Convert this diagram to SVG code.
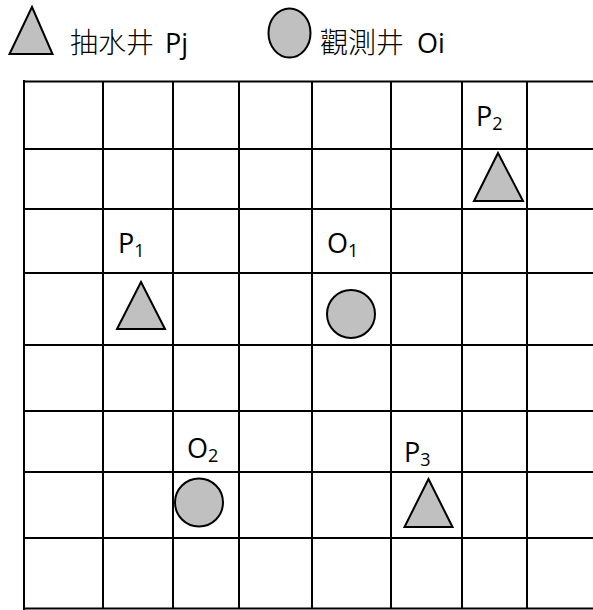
<svg xmlns="http://www.w3.org/2000/svg" width="593" height="610" viewBox="0 0 593 610">
<style>
.grid line{stroke:#000;stroke-width:2}
.border{stroke:#000;stroke-width:3.5}
.well{fill:#c0c0c0;stroke:#000;stroke-width:2;stroke-linejoin:miter}
.lat{font-family:"Open Sans","Noto Sans",sans-serif;font-size:27px;fill:#000}
.sub{font-size:18px}
.cjk{font-family:"Noto Sans CJK TC","Noto Sans CJK SC",serif;font-size:28px;font-weight:300;fill:#000}
</style>
<rect width="593" height="610" fill="#fff"/>
<g id="legend">
  <g id="legend-pump">
    <polygon class="well" points="32,7 9.5,54 52.5,54"/>
    <text class="cjk" x="70" y="53">抽水井</text>
    <text class="lat" x="165" y="53">Pj</text>
  </g>
  <g id="legend-obs">
    <ellipse class="well" cx="289.5" cy="33" rx="21" ry="24.5"/>
    <text class="cjk" x="320" y="53">觀測井</text>
    <text class="lat" x="417" y="53">Oi</text>
  </g>
</g>
<g id="grid" class="grid">
  <line x1="103" y1="81" x2="103" y2="609"/>
  <line x1="173" y1="81" x2="173" y2="609"/>
  <line x1="239" y1="81" x2="239" y2="609"/>
  <line x1="312" y1="81" x2="312" y2="609"/>
  <line x1="391" y1="81" x2="391" y2="609"/>
  <line x1="462" y1="81" x2="462" y2="609"/>
  <line x1="527" y1="81" x2="527" y2="609"/>
  <line x1="24" y1="149" x2="593" y2="149"/>
  <line x1="24" y1="209" x2="593" y2="209"/>
  <line x1="24" y1="273" x2="593" y2="273"/>
  <line x1="24" y1="345" x2="593" y2="345"/>
  <line x1="24" y1="411" x2="593" y2="411"/>
  <line x1="24" y1="472" x2="593" y2="472"/>
  <line x1="24" y1="538" x2="593" y2="538"/>
  <line x1="24" y1="608.5" x2="593" y2="608.5"/>
  <line class="border" x1="24" y1="81.5" x2="593" y2="81.5"/>
  <line class="border" x1="24" y1="80" x2="24" y2="610"/>
</g>
<g id="P1">
  <text class="lat" x="118" y="253">P<tspan class="sub" dy="4">1</tspan></text>
  <polygon class="well" points="141,282 117,329 165,329"/>
</g>
<g id="P2">
  <text class="lat" x="476" y="126">P<tspan class="sub" dy="4">2</tspan></text>
  <polygon class="well" points="498,153 474,201 523,201"/>
</g>
<g id="P3">
  <text class="lat" x="404" y="462">P<tspan class="sub" dy="4">3</tspan></text>
  <polygon class="well" points="428.5,479 404.5,527 452.5,527"/>
</g>
<g id="O1">
  <text class="lat" x="327" y="253">O<tspan class="sub" dy="4">1</tspan></text>
  <circle class="well" cx="351" cy="314" r="24"/>
</g>
<g id="O2">
  <text class="lat" x="187" y="458">O<tspan class="sub" dy="4">2</tspan></text>
  <circle class="well" cx="199" cy="502.5" r="24"/>
</g>
<g id="connectors"/>
</svg>
